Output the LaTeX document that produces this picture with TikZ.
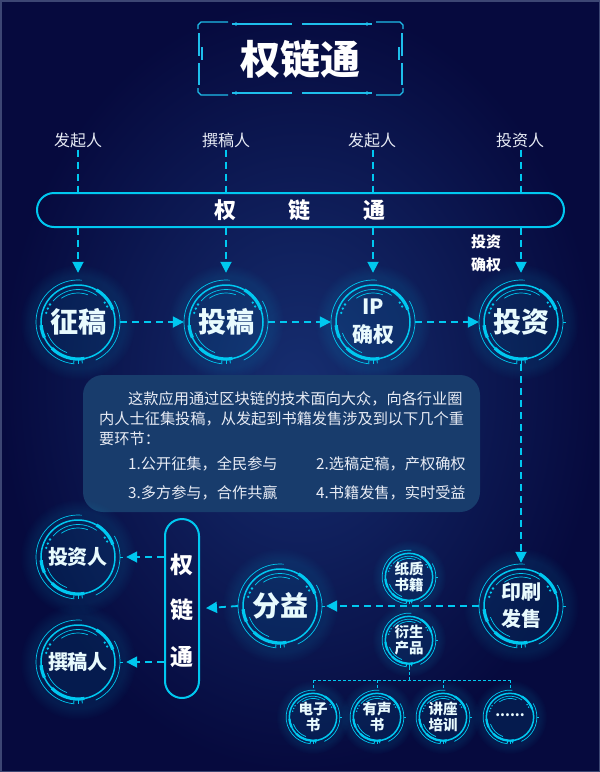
\documentclass[tikz,border=0pt]{standalone}
\usepackage{fontspec}
\setmainfont{Noto Sans CJK SC}
\usetikzlibrary{arrows.meta,fadings}
\definecolor{bgout}{RGB}{6,10,62}
\definecolor{bgin}{RGB}{22,46,112}
\definecolor{cy}{RGB}{0,200,240}
\definecolor{fr}{RGB}{30,190,235}
\definecolor{boxc}{RGB}{24,60,108}
\definecolor{txt}{RGB}{232,236,245}
\newcommand\ringat[3]{%
  \begin{scope}[shift={(#1)},yscale=-1]
    \fill[cy,opacity=0.09,path fading=circle with fuzzy edge 20 percent] (0,0) circle ({58*#2});
    \draw[cy,line width=1.5pt] (0,0) circle ({37*#2});
    \draw[cy,line width=#3] (20:{37*#2}) arc (20:60:{37*#2});
    \draw[cy,line width=#3] (-135:{37*#2}) arc (-135:-80:{37*#2});
    \draw[cy,line width=#3] (185:{37*#2}) arc (185:205:{37*#2});
    \draw[cy,line width=0.7pt] (85:{42*#2}) arc (85:265:{42*#2});
    \draw[cy,line width=0.7pt] (-65:{42*#2}) arc (-65:30:{42*#2});
    \draw[cy,line width=0.7pt] (55:{32.5*#2}) arc (55:140:{32.5*#2});
    \draw[cy,line width=0.7pt] (70:{29*#2}) arc (70:125:{29*#2});
    \draw[cy,line width=0.7pt] (-160:{32.5*#2}) arc (-160:-110:{32.5*#2});
    \foreach \a in {148,156,164} \fill[cy] (\a:{33*#2}) circle ({1.3*#2});
    \foreach \a in {28,36} \fill[cy] (\a:{33*#2}) circle ({1.3*#2});
    \foreach \a in {-96,-90,-84} \draw[cy,line width=0.9pt] (\a:{37*#2}) -- (\a:{41.5*#2});
    \draw[cy,line width=0.9pt] (0:{42*#2}) -- (0:{45*#2});
  \end{scope}}
\begin{document}
\begin{tikzpicture}[x=1pt,y=-1pt,
  dl/.style={cy,line width=1.8pt,dash pattern=on 7pt off 5pt},
  arr/.style={dl,-{Triangle[length=11pt,width=11pt]}},
  treeline/.style={cy,line width=0.8pt,dash pattern=on 3pt off 2pt},
  toplab/.style={text=txt,font=\fontsize{16}{18}\selectfont,inner sep=2pt},
  bignode/.style={circle,minimum size=84pt,inner sep=0pt,text=white,align=center,font=\bfseries\fontsize{28}{30}\selectfont},
  midnode/.style={bignode,font=\bfseries\fontsize{20}{27}\selectfont},
  smallnode/.style={circle,minimum size=54pt,inner sep=0pt,text=white,align=center,font=\bfseries\fontsize{14.5}{16.5}\selectfont},
  boxtxt/.style={text=txt,font=\fontsize{15.2}{17}\selectfont,inner sep=0pt,anchor=base west},
  barlab/.style={text=white,font=\bfseries\fontsize{23}{23}\selectfont},
  frameline/.style={fr,line width=1.4pt}]
\useasboundingbox (0,0) rectangle (600,772);
\shade[inner color=bgin,outer color=bgout] (0,0) rectangle (600,772);
\draw[color={rgb,255:red,60;green,70;blue,115},line width=1.5pt] (0.75,0.75) rectangle (599.25,771.25);

% title frame
\node[font=\bfseries\fontsize{40}{40}\selectfont,text=white] (title) at (300,59) {权链通};
\draw[frameline] (198,29) -- (198,25) -- (201,22) -- (228,22);
\draw[frameline] (232,24) -- (292,24);
\fill[fr] (236,24) circle (1.8);
\draw[frameline] (302,24) -- (372,24);
\fill[fr] (367,24) circle (1.8);
\draw[frameline] (376,22) -- (400,22) -- (403,25) -- (403,29);
\draw[frameline] (198,88) -- (198,92) -- (201,95) -- (228,95);
\draw[frameline] (232,93) -- (292,93);
\fill[fr] (236,93) circle (1.8);
\draw[frameline] (302,93) -- (372,93);
\fill[fr] (367,93) circle (1.8);
\draw[frameline] (376,95) -- (400,95) -- (403,92) -- (403,88);
\draw[frameline] (199,33) -- (199,56);
\draw[fr,line width=2.6pt] (202,47) -- (202,60);
\draw[frameline] (199,63) -- (199,85);
\draw[frameline] (402,33) -- (402,56);
\draw[fr,line width=2.6pt] (399,47) -- (399,60);
\draw[frameline] (402,63) -- (402,85);

% top labels
\node[toplab] (t1) at (78,140) {发起人};
\node[toplab] (t2) at (226,140) {撰稿人};
\node[toplab] (t3) at (372,140) {发起人};
\node[toplab] (t4) at (520,140) {投资人};

% bar
\node[draw=cy,line width=2pt,rounded corners=17pt,minimum width=527pt,minimum height=34pt] (bar) at (300.5,210) {};
\node[barlab,font=\bfseries\fontsize{22}{22}\selectfont] (bt) at (300,210) {权\hspace{53pt}链\hspace{53pt}通};

% main row
\node[bignode] (zg) at (78,322) {征稿};
\node[bignode] (tg) at (226,322) {投稿};
\node[bignode,font=\bfseries\fontsize{21}{28}\selectfont] (ip) at (373,322) {IP\\确权};
\node[bignode] (tz) at (521,322) {投资};
\foreach \n in {zg,tg,ip,tz} {\ringat{\n}{1}{3.2pt}}

\node[text=white,align=center,font=\bfseries\fontsize{15}{23}\selectfont] (lbl) at (486,253) {投资\\确权};

\draw[dl] (zg |- t1.south) -- (zg |- bar.north);
\draw[dl] (tg |- t2.south) -- (tg |- bar.north);
\draw[dl] (ip |- t3.south) -- (ip |- bar.north);
\draw[dl] (tz |- t4.south) -- (tz |- bar.north);
\foreach \n in {zg,tg,ip,tz} {\draw[arr,shorten >=7pt] (\n |- bar.south) -- (\n.north);}

\draw[arr] (zg.east) -- (tg.west);
\draw[arr] (tg.east) -- (ip.west);
\draw[arr] (ip.east) -- (tz.west);

% text box
\node[fill=boxc,rounded corners=20pt,minimum width=397pt,minimum height=137pt,inner sep=0pt] (box) at (281.5,443.5) {};
\node[boxtxt] (p1) at (128,404) {这款应用通过区块链的技术面向大众，向各行业圈};
\node[boxtxt] (p2) at (99,424) {内人士征集投稿，从发起到书籍发售涉及到以下几个重};
\node[boxtxt] (p3) at (99,444) {要环节：};
\node[boxtxt] (i1) at (128,469) {1.公开征集，全民参与};
\node[boxtxt] (i2) at (316,469) {2.选稿定稿，产权确权};
\node[boxtxt] (i3) at (128,498) {3.多方参与，合作共赢};
\node[boxtxt] (i4) at (316,498) {4.书籍发售，实时受益};

% lower part
\node[midnode] (ys) at (521,606) {印刷\\发售};
\node[bignode] (fy) at (280,606) {分益};
\ringat{ys}{1}{3.2pt}
\ringat{fy}{1}{3.2pt}
\draw[arr,shorten >=1pt] (tz.south) -- (ys.north);
\draw[arr,shorten >=4pt] (ys.west) -- (fy.east);

\node[draw=cy,line width=2pt,rounded corners=17pt,minimum width=34pt,minimum height=179pt] (vb) at (182,608.5) {};
\node[barlab] (q1) at (182,565) {权};
\node[barlab] (q2) at (182,610) {链};
\node[barlab] (q3) at (182,657) {通};
\draw[arr,shorten >=6pt] (fy.west) -- (vb.east);

\node[midnode] (tzr) at (78,557) {投资人};
\node[midnode] (zgr) at (78,662) {撰稿人};
\ringat{tzr}{1}{3.2pt}
\ringat{zgr}{1}{3.2pt}
\draw[arr,shorten >=6pt] (vb.west |- tzr) -- (tzr.east);
\draw[arr,shorten >=6pt] (vb.west |- zgr) -- (zgr.east);

% small circles
\node[smallnode] (zz) at (409,577) {纸质\\书籍};
\node[smallnode] (ysp) at (409,640) {衍生\\产品};
\node[smallnode] (dz) at (313,717) {电子\\书};
\node[smallnode] (ysh) at (377,717) {有声\\书};
\node[smallnode] (jz) at (443,717) {讲座\\培训};
\node[smallnode,font=\bfseries\fontsize{14}{14}\selectfont] (more) at (510,717) {\raisebox{0.3em}{......}};
\foreach \n in {zz,ysp,dz,ysh,jz,more} {\ringat{\n}{0.64}{2.2pt}}

\coordinate (tj) at (409,680);
\draw[treeline] (ysp.south) -- (tj);
\draw[treeline] (dz |- tj) -- (more |- tj);
\foreach \n in {dz,ysh,jz,more} {\draw[treeline] (\n |- tj) -- (\n.north);}
\end{tikzpicture}
\end{document}
